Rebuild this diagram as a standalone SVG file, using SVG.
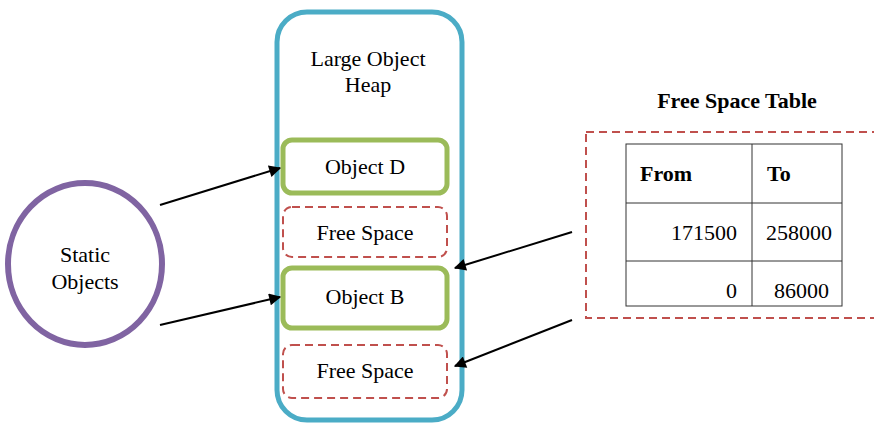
<svg xmlns="http://www.w3.org/2000/svg" width="874" height="425" viewBox="0 0 874 425">
<defs>
<marker id="ah" viewBox="0 0 10 10" refX="9" refY="5" markerWidth="13" markerHeight="12" markerUnits="userSpaceOnUse" orient="auto">
<path d="M0,0 L10,5 L0,10 z" fill="#000"/>
</marker>
</defs>
<style>
text{font-family:'Liberation Serif','DejaVu Serif',serif;font-size:22px;fill:#000}
.c{text-anchor:middle}
.r{text-anchor:end}
.b{font-weight:bold}
.obj{fill:#fff;stroke:#9BBB59;stroke-width:5}
.free{fill:#fff;stroke:#C0504D;stroke-width:2;stroke-dasharray:8 5}
.con{stroke:#000;stroke-width:2;fill:none;marker-end:url(#ah)}
.tl{stroke:#333;stroke-width:1;fill:none}
</style>
<rect width="874" height="425" fill="#fff"/>
<g id="static">
<ellipse cx="85" cy="264" rx="77" ry="81" fill="#fff" stroke="#8064A2" stroke-width="6"/>
<text class="c" x="85" y="262" font-family="Liberation Serif">Static</text>
<text class="c" x="85" y="289" font-family="Liberation Serif">Objects</text>
</g>
<g id="heap">
<rect x="277" y="12" width="185" height="408" rx="30" fill="#fff" stroke="#4BACC6" stroke-width="5"/>
<text class="c" x="368" y="66" font-family="Liberation Serif">Large Object</text>
<text class="c" x="368" y="92" font-family="Liberation Serif">Heap</text>
</g>
<g id="objD">
<rect class="obj" x="283" y="140" width="164" height="53" rx="9"/>
<text class="c" x="365" y="174" font-family="Liberation Serif">Object D</text>
</g>
<g id="free1">
<rect class="free" x="283" y="207" width="164" height="50" rx="9"/>
<text class="c" x="365" y="240" font-family="Liberation Serif">Free Space</text>
</g>
<g id="objB">
<rect class="obj" x="283" y="268" width="164" height="60" rx="9"/>
<text class="c" x="365" y="304" font-family="Liberation Serif">Object B</text>
</g>
<g id="free2">
<rect class="free" x="283" y="345" width="164" height="53" rx="9"/>
<text class="c" x="365" y="378" font-family="Liberation Serif">Free Space</text>
</g>
<g id="table">
<text class="c b" x="737" y="108" font-family="Liberation Serif" font-size="21.5">Free Space Table</text>
<rect class="free" x="586" y="132" width="300" height="186"/>
<rect x="626" y="144" width="216" height="162" fill="#fff" class="tl"/>
<line class="tl" x1="752" y1="144" x2="752" y2="306"/>
<line class="tl" x1="626" y1="203" x2="842" y2="203"/>
<line class="tl" x1="626" y1="261" x2="842" y2="261"/>
<text class="b" x="640" y="181" font-family="Liberation Serif">From</text>
<text class="b" x="767" y="181" font-family="Liberation Serif">To</text>
<text class="r" x="737" y="240" font-family="Liberation Serif">171500</text>
<text x="766" y="240" font-family="Liberation Serif">258000</text>
<text class="r" x="737" y="298" font-family="Liberation Serif">0</text>
<text x="774" y="298" font-family="Liberation Serif">86000</text>
</g>
<g id="connectors">
<line class="con" x1="160" y1="205" x2="280" y2="168"/>
<line class="con" x1="160" y1="325" x2="280" y2="297"/>
<line class="con" x1="572" y1="232" x2="455" y2="268"/>
<line class="con" x1="572" y1="320" x2="455" y2="366"/>
</g>
</svg>
